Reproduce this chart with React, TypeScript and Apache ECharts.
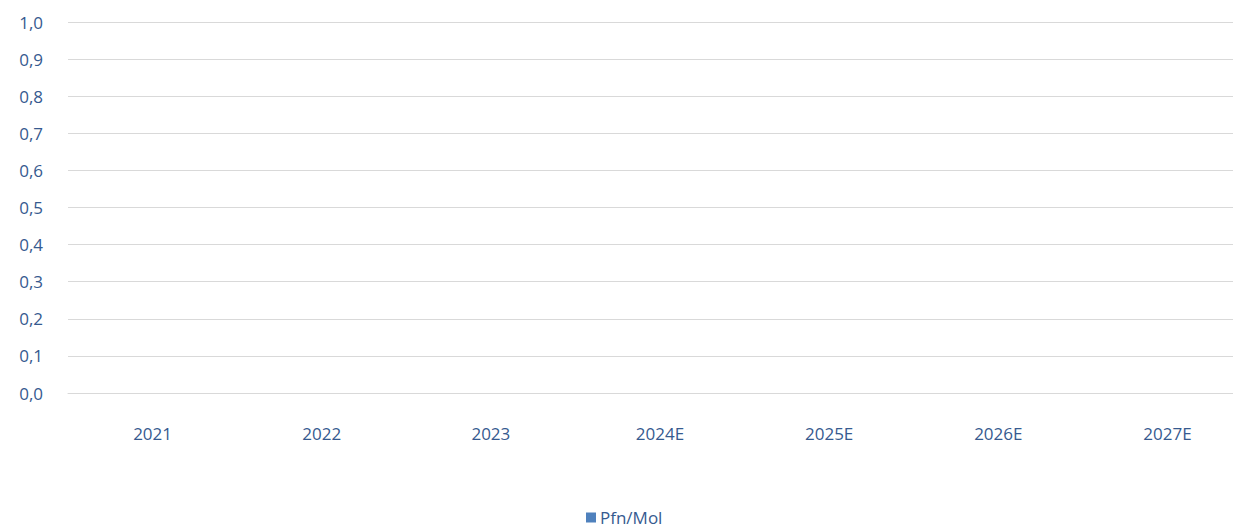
import React, { useEffect, useRef } from "react";
import * as echarts from "echarts";

const categories = ["2021", "2022", "2023", "2024E", "2025E", "2026E", "2027E"];
const seriesName = "Pfn/Mol";
const values: (number | null)[] = [null, null, null, null, null, null, null];

export default function App() {
  const ref = useRef<HTMLDivElement>(null);
  useEffect(() => {
    if (!ref.current) return;
    const chart = echarts.init(ref.current, undefined, { renderer: "svg" });
    const txt = "#365a8f";
    const ff = "Open Sans";
    chart.setOption({
      animation: false,
      grid: { left: 68, right: 0, top: 22, bottom: 137, containLabel: false },
      legend: {
        top: 504,
        left: 581,
        icon: "rect",
        itemWidth: 10,
        itemHeight: 10,
        itemGap: 4,
        textStyle: { color: txt, fontSize: 17, fontFamily: ff, padding: [0, 0, 0, -1] },
        data: [seriesName],
      },
      xAxis: {
        type: "category",
        data: categories,
        axisLine: { lineStyle: { color: "#d9d9d9", width: 1 } },
        axisTick: { show: false },
        axisLabel: { color: txt, fontSize: 17, margin: 32, fontFamily: ff },
      },
      yAxis: {
        type: "value",
        min: 0,
        max: 1,
        interval: 0.1,
        axisLine: { show: false },
        axisTick: { show: false },
        splitLine: { lineStyle: { color: "#d9d9d9", width: 1 } },
        axisLabel: {
          color: txt,
          fontSize: 17,
          margin: 25,
          fontFamily: ff,
          formatter: (v: number) => v.toFixed(1).replace(".", ","),
        },
      },
      series: [
        {
          name: seriesName,
          type: "bar",
          data: values,
          itemStyle: { color: "#4f81bd" },
        },
      ],
    });
    return () => chart.dispose();
  }, []);
  return (
    <div
      style={{ position: "absolute", left: 0, top: 0, width: 1233, height: 530, overflow: "hidden" }}
    >
      <div ref={ref} style={{ width: 1252, height: 530 }} />
    </div>
  );
}
